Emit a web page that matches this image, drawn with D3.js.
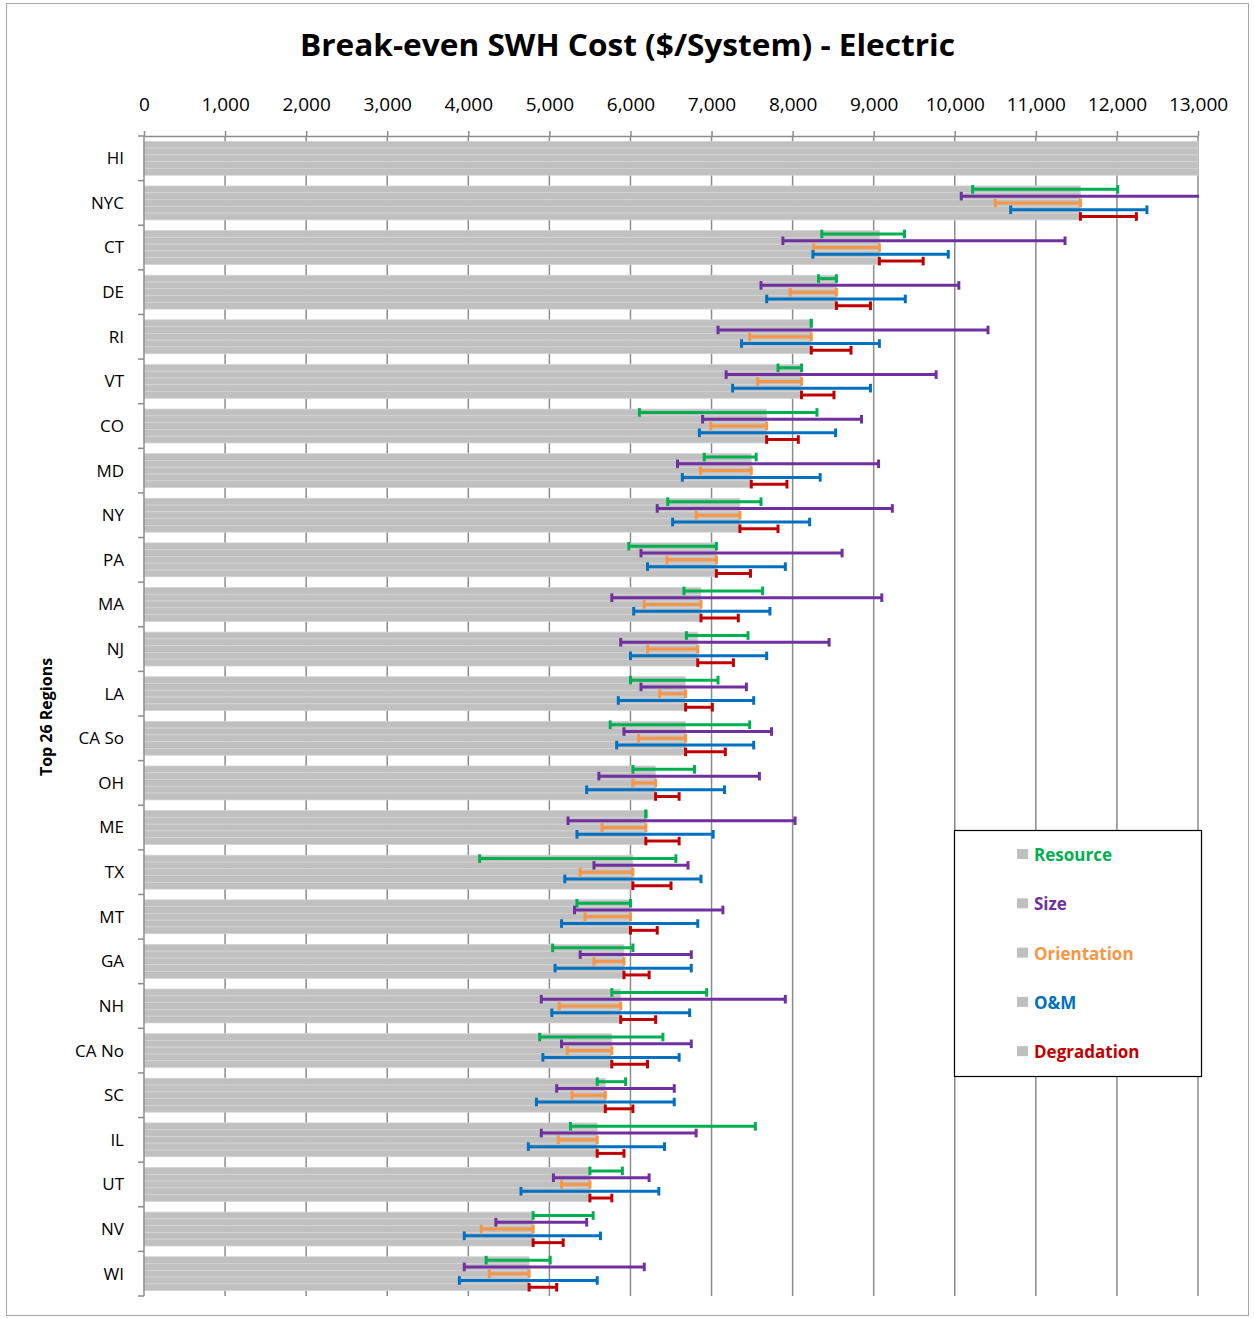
<!DOCTYPE html>
<html>
<head>
  <meta charset="utf-8">
  <script src="https://d3js.org/d3.v7.min.js"></script>
  <style type="text/css">
    body { margin: 0; background: #fff; }
    text { font-family: "Open Sans", sans-serif; fill: #000; }
    .tick-label { font-size: 19px; }
    .cat-label { font-size: 17px; }
    .legend-text { font-size: 17px; font-weight: bold; }
  </style>
</head>
<body>
<script type="text/javascript">
  // Regions (top to bottom) and base break-even cost
  var regions = ["HI", "NYC", "CT", "DE", "RI", "VT", "CO", "MD", "NY", "PA", "MA", "NJ", "LA",
    "CA So", "OH", "ME", "TX", "MT", "GA", "NH", "CA No", "SC", "IL", "UT", "NV", "WI"];
  var baseCost = [13000, 11550, 9070, 8540, 8230, 8110, 7680, 7490, 7350, 7060, 6870, 6830, 6680,
    6680, 6310, 6190, 6030, 6000, 5920, 5880, 5770, 5690, 5590, 5500, 4800, 4750];

  // Sensitivity ranges [low, high] per region
  var resourceRange = [null, [10220, 12010], [8360, 9380], [8320, 8540], [8230, 8230], [7820, 8110],
    [6110, 8300], [6910, 7550], [6460, 7610], [5980, 7060], [6660, 7630], [6690, 7450], [6000, 7080],
    [5750, 7470], [6030, 6790], [6190, 6190], [4140, 6560], [5340, 6000], [5040, 6030], [5770, 6940],
    [4880, 6400], [5590, 5940], [5260, 7540], [5500, 5900], [4800, 5540], [4220, 5010]];
  var sizeRange = [null, [10080, 13200], [7880, 11360], [7610, 10050], [7080, 10410], [7180, 9770],
    [6890, 8850], [6580, 9060], [6330, 9230], [6130, 8610], [5770, 9100], [5880, 8450], [6130, 7430],
    [5920, 7740], [5610, 7590], [5230, 8030], [5550, 6710], [5310, 7140], [5380, 6750], [4900, 7910],
    [5150, 6750], [5090, 6540], [4900, 6810], [5050, 6230], [4340, 5460], [3950, 6170]];
  var orientationRange = [null, [10500, 11550], [8260, 9070], [7970, 8540], [7470, 8230], [7570, 8110],
    [6990, 7680], [6865, 7490], [6810, 7350], [6450, 7060], [6170, 6870], [6210, 6830], [6360, 6680],
    [6100, 6680], [6030, 6310], [5650, 6190], [5380, 6030], [5440, 6000], [5550, 5920], [5120, 5880],
    [5220, 5770], [5280, 5690], [5110, 5590], [5150, 5500], [4160, 4800], [4260, 4750]];
  var omRange = [null, [10690, 12370], [8250, 9920], [7680, 9390], [7370, 9070], [7260, 8960],
    [6850, 8530], [6640, 8340], [6520, 8210], [6210, 7910], [6040, 7720], [6000, 7680], [5850, 7520],
    [5830, 7520], [5460, 7160], [5340, 7020], [5190, 6870], [5150, 6830], [5070, 6750], [5030, 6730],
    [4920, 6600], [4840, 6540], [4740, 6420], [4650, 6350], [3950, 5630], [3890, 5590]];
  var degradationRange = [null, [11550, 12240], [9070, 9610], [8540, 8960], [8230, 8720], [8110, 8510],
    [7680, 8070], [7490, 7930], [7350, 7820], [7060, 7480], [6870, 7330], [6830, 7270], [6680, 7010],
    [6680, 7170], [6310, 6600], [6190, 6600], [6030, 6500], [6000, 6330], [5920, 6230], [5880, 6310],
    [5770, 6210], [5690, 6030], [5590, 5920], [5500, 5770], [4800, 5170], [4750, 5090]];

  var seriesNames = ["Resource", "Size", "Orientation", "O&M", "Degradation"];
  var seriesColors = ["#00b050", "#7030a0", "#f79646", "#0070c0", "#c00000"];
  var xTicks = [0, 1000, 2000, 3000, 4000, 5000, 6000, 7000, 8000, 9000, 10000, 11000, 12000, 13000];

  var ranges = [resourceRange, sizeRange, orientationRange, omRange, degradationRange];

  // Layout
  var width = 1254, height = 1318;
  var plot = {left: 144, right: 1198, top: 136, bottom: 1296};
  var axisColor = "#8c8c8c";

  var svg = d3.select("body").append("svg")
      .attr("width", width)
      .attr("height", height);

  // outer frame
  svg.append("rect")
      .attr("x", 6.5).attr("y", 3.5)
      .attr("width", 1242).attr("height", 1312)
      .attr("fill", "none")
      .attr("stroke", "#a6a6a6");

  var x = d3.scaleLinear().domain([0, 13000]).range([plot.left, plot.right]);
  var y = d3.scaleBand().domain(regions).range([plot.top, plot.bottom])
      .paddingInner(0.24).paddingOuter(0.12);
  var ySub = d3.scaleBand().domain(seriesNames).range([0, y.bandwidth()]);

  // vertical gridlines
  svg.append("g").selectAll("line")
      .data(xTicks.slice(1))
      .join("line")
      .attr("x1", function(d) { return x(d); })
      .attr("x2", function(d) { return x(d); })
      .attr("y1", plot.top)
      .attr("y2", plot.bottom)
      .attr("stroke", axisColor)
      .attr("stroke-width", 1.5);

  // grey bars, one per series in each region
  var barData = [];
  regions.forEach(function(r, i) {
    seriesNames.forEach(function(s) {
      barData.push({region: r, series: s, value: Math.min(baseCost[i], 13000)});
    });
  });

  svg.append("g").selectAll("rect")
      .data(barData)
      .join("rect")
      .attr("x", x(0))
      .attr("y", function(d) { return y(d.region) + ySub(d.series); })
      .attr("width", function(d) { return x(d.value) - x(0); })
      .attr("height", ySub.bandwidth())
      .attr("fill", "#c0c0c0")
      .attr("stroke", "#d4d4d4")
      .attr("stroke-width", 0.8);

  // top axis
  var xAxis = d3.axisTop(x)
      .tickValues(xTicks)
      .tickFormat(d3.format(","))
      .tickSizeInner(5)
      .tickSizeOuter(0)
      .tickPadding(20);

  var gx = svg.append("g")
      .attr("transform", "translate(0," + plot.top + ")")
      .call(xAxis);
  gx.select(".domain").attr("stroke", axisColor).attr("stroke-width", 1.5);
  gx.selectAll(".tick line").attr("stroke", axisColor).attr("stroke-width", 1.5);
  gx.selectAll(".tick text")
      .attr("class", "tick-label")
      .attr("fill", "#000")
      .style("font-family", "'Open Sans', sans-serif");

  // left axis line, boundary ticks and labels
  var step = y.step();
  var outer = y.paddingOuter() * step;
  var boundaries = regions.map(function(r) { return y(r) - outer; }).concat([plot.bottom]);

  svg.append("line")
      .attr("x1", plot.left).attr("x2", plot.left)
      .attr("y1", plot.top).attr("y2", plot.bottom)
      .attr("stroke", axisColor).attr("stroke-width", 1.5);

  svg.append("g").selectAll("line")
      .data(boundaries)
      .join("line")
      .attr("x1", plot.left - 6).attr("x2", plot.left)
      .attr("y1", function(d) { return d; })
      .attr("y2", function(d) { return d; })
      .attr("stroke", axisColor).attr("stroke-width", 1.5);

  svg.append("g").selectAll("text")
      .data(regions)
      .join("text")
      .attr("class", "cat-label")
      .attr("x", 124)
      .attr("y", function(d) { return y(d) + y.bandwidth() / 2; })
      .attr("dy", "0.35em")
      .attr("text-anchor", "end")
      .text(function(d) { return d; });

  // error bars, clipped to the plot area
  svg.append("clipPath").attr("id", "plot-clip")
    .append("rect")
      .attr("x", 0).attr("y", 0)
      .attr("width", plot.right + 1).attr("height", height);

  var errData = [];
  regions.forEach(function(r, i) {
    seriesNames.forEach(function(s, j) {
      var rg = ranges[j][i];
      if (rg) errData.push({region: r, series: s, low: rg[0], high: rg[1], color: seriesColors[j]});
    });
  });

  var capHalf = 4.3;
  var errG = svg.append("g").attr("clip-path", "url(#plot-clip)")
      .selectAll("g")
      .data(errData)
      .join("g")
      .attr("transform", function(d) {
        return "translate(0," + (y(d.region) + ySub(d.series) + ySub.bandwidth() / 2) + ")";
      });

  errG.append("line")
      .attr("x1", function(d) { return x(d.low); })
      .attr("x2", function(d) { return x(d.high); })
      .attr("y1", 0).attr("y2", 0)
      .attr("stroke", function(d) { return d.color; })
      .attr("stroke-width", 3);

  errG.selectAll(".cap")
      .data(function(d) { return [{v: d.low, color: d.color}, {v: d.high, color: d.color}]; })
      .join("line")
      .attr("class", "cap")
      .attr("x1", function(d) { return x(d.v); })
      .attr("x2", function(d) { return x(d.v); })
      .attr("y1", -capHalf).attr("y2", capHalf)
      .attr("stroke", function(d) { return d.color; })
      .attr("stroke-width", 3);

  // legend
  var legend = svg.append("g");
  legend.append("rect")
      .attr("x", 954.5).attr("y", 830.5)
      .attr("width", 247).attr("height", 246)
      .attr("fill", "#fff")
      .attr("stroke", "#000")
      .attr("stroke-width", 1.2);

  var legendItem = legend.selectAll("g")
      .data(seriesNames)
      .join("g")
      .attr("transform", function(d, i) { return "translate(0," + (i * 49.3) + ")"; });

  legendItem.append("rect")
      .attr("x", 1017).attr("y", 849)
      .attr("width", 11).attr("height", 10)
      .attr("fill", "#c0c0c0");

  legendItem.append("text")
      .attr("class", "legend-text")
      .attr("x", 1034).attr("y", 861)
      .style("fill", function(d, i) { return seriesColors[i]; })
      .text(function(d) { return d; });

  // title
  svg.append("text")
      .attr("x", 627.5)
      .attr("y", 56)
      .attr("text-anchor", "middle")
      .attr("textLength", 655)
      .attr("lengthAdjust", "spacingAndGlyphs")
      .style("font-size", "31px")
      .style("font-weight", "bold")
      .text("Break-even SWH Cost ($/System) - Electric");

  // y axis title
  svg.append("text")
      .attr("transform", "translate(52,717) rotate(-90)")
      .attr("text-anchor", "middle")
      .style("font-size", "16px")
      .style("font-weight", "bold")
      .text("Top 26 Regions");
</script>
</body>
</html>
